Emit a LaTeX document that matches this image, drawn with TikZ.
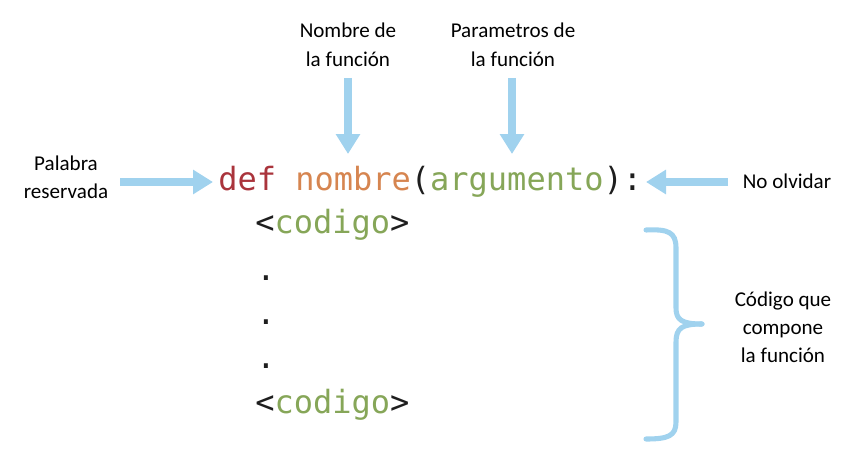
\documentclass[tikz,border=0pt]{standalone}
\usepackage{fontspec}
\setmainfont{Carlito}
\newfontfamily\codefont{DejaVu Sans Mono}
\usetikzlibrary{arrows.meta}
\definecolor{hint}{RGB}{160,210,238}
\definecolor{kwred}{RGB}{170,52,60}
\definecolor{fnorange}{RGB}{214,133,80}
\definecolor{strgreen}{RGB}{134,166,88}
\definecolor{ink}{RGB}{30,30,30}

\begin{document}
\begin{tikzpicture}[x=0.75pt,y=-0.75pt,
  note/.style={font=\fontsize{15.8}{21}\selectfont, align=center, inner sep=0pt, anchor=base, text=black},
  code/.style={font=\codefont\fontsize{24}{24}\selectfont, inner sep=0pt, anchor=base west, text=ink},
  pointer/.style={draw=hint, line width=6pt, -{Triangle[width=17.5pt,length=15pt]}},
  brace/.style={draw=hint, line width=3.8pt, line cap=round}]
\useasboundingbox (0,0) rectangle (856,460);

% explanatory notes (anchored at the baseline of their last line)
\node[note] (fname) at (348,66) {Nombre de\\la función};
\node[note] (fparams) at (513,66) {Parametros de\\la función};
\node[note] (kwnote) at (66,198) {Palabra\\reservada};
\node[note] (colon) at (787,188) {No olvidar};
\node[note] (body) at (783,362) {Código que\\compone\\la función};

% function definition
\node[code] (sig) at (218,190) {\textcolor{kwred}{def} \textcolor{fnorange}{nombre}(\textcolor{strgreen}{argumento}):};
\node[code] (c1) at (255,233) {<\textcolor{strgreen}{codigo}>};
\node[code] (d1) at (256,280) {.};
\node[code] (d2) at (256,324) {.};
\node[code] (d3) at (256,368) {.};
\node[code] (c2) at (255,413) {<\textcolor{strgreen}{codigo}>};

% pointer ends
\coordinate (fnTail) at (348,78);
\coordinate (fnTip) at (348,154);
\coordinate (parTail) at (512,78);
\coordinate (parTip) at (512,154);
\coordinate (kwTail) at (120,182);
\coordinate (kwTip) at (213,182);
\coordinate (colTail) at (728,182);
\coordinate (colTip) at (646,182);

\draw[pointer] (fnTail) -- (fnTip);
\draw[pointer] (parTail) -- (parTip);
\draw[pointer] (kwTail) -- (kwTip);
\draw[pointer] (colTail) -- (colTip);

% brace around the body
\draw[brace] (646,230) .. controls (668,229) and (676,232) .. (676,248) -- (676,308)
  .. controls (676,320) and (682,324) .. (702,324);
\draw[brace] (702,324) .. controls (682,324) and (676,328) .. (676,342) -- (676,422)
  .. controls (676,436) and (668,439) .. (646,439);
\end{tikzpicture}
\end{document}
